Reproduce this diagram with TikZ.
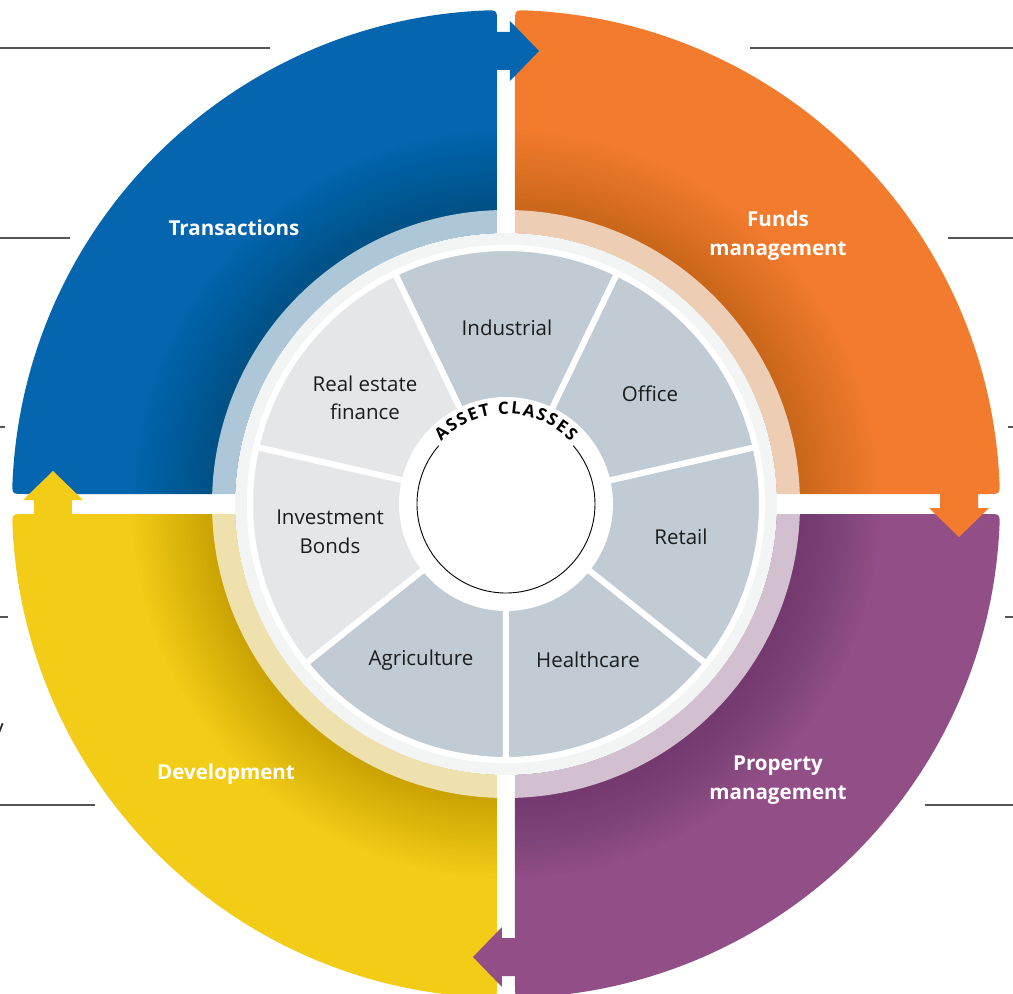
\documentclass[tikz,border=0pt]{standalone}
\usepackage{fontspec}
\setmainfont{Open Sans}
\usetikzlibrary{decorations.text}

\definecolor{qblue}{HTML}{0565AE}
\definecolor{qorange}{HTML}{F27B2E}
\definecolor{qpurple}{HTML}{924E87}
\definecolor{qyellow}{HTML}{F3CC17}
\definecolor{seggray}{HTML}{C1CBD3}
\definecolor{seglight}{HTML}{E5E6E8}
\definecolor{ringgray}{HTML}{F3F4F4}
\definecolor{edgeline}{HTML}{555555}
\definecolor{labeltext}{HTML}{1C1C1C}

\tikzset{
  pathblue/.style={insert path={(-9,10) -- (-9,481.9) .. controls (-9,493.9) .. (92.43:494) arc[start angle=92.43, end angle=177.45, radius=494] .. controls (-493.9,10) .. (-481.9,10) -- cycle}},
  pathorange/.style={insert path={(9,10) -- (481.9,10) .. controls (493.9,10) .. (2.55:494) arc[start angle=2.55, end angle=87.57, radius=494] .. controls (9,493.9) .. (9,481.9) -- cycle}},
  pathpurple/.style={insert path={(9,-10) -- (9,-481.9) .. controls (9,-493.9) .. (-87.57:494) arc[start angle=-87.57, end angle=-2.55, radius=494] .. controls (493.9,-10) .. (481.9,-10) -- cycle}},
  pathyellow/.style={insert path={(-9,-10) -- (-481.9,-10) .. controls (-493.9,-10) .. (182.55:494) arc[start angle=182.55, end angle=267.43, radius=494] .. controls (-9,-493.9) .. (-9,-481.9) -- cycle}},
  flowarrow/.pic={\fill (-14,434) -- (4,434) -- (4,423) -- (33,453) -- (4,483) -- (4,472) -- (-14,472) -- cycle;},
  edgeln/.style={draw=edgeline, line width=1.3},
  qlabel/.style={text=white, font=\fontsize{20.6}{29}\selectfont\bfseries, align=center, inner sep=0},
  seglabel/.style={text=labeltext, font=\fontsize{20.5}{28.5}\selectfont, align=center, inner sep=0},
}

\newcommand\segsector[3]{%
  \filldraw[fill=#3, draw=white, line width=6, line join=miter]
    (#1:256) arc[start angle=#1, end angle=#2, radius=256] -- (#2:104)
    arc[start angle=#2, end angle=#1, radius=104] -- cycle;}

\begin{document}
\begin{tikzpicture}[x=1pt, y=1pt]
  \useasboundingbox (-506,-490) rectangle (507,504);
  \fill[white] (-506,-490) rectangle (507,504);

  % edge lines of the surrounding page
  \draw[edgeln] (-506,456) -- (-236,456);
  \draw[edgeln] (244,456) -- (507,456);
  \draw[edgeln] (-506,266) -- (-436,266);
  \draw[edgeln] (442,266) -- (507,266);
  \draw[edgeln] (-506,77) -- (-501,77);
  \draw[edgeln] (-506,-113) -- (-498,-113);
  \draw[edgeln] (502,77) -- (507,77);
  \draw[edgeln] (499,-113) -- (507,-113);
  \draw[edgeln] (-506,-301) -- (-411,-301);
  \draw[edgeln] (419,-301) -- (507,-301);
  \node[anchor=base east, inner sep=0, font=\fontsize{22}{22}\selectfont, text=labeltext] (yfrag) at (-502,-231) {y};

  % quadrants
  \fill[qblue] [pathblue];
  \fill[qorange] [pathorange];
  \fill[qpurple] [pathpurple];
  \fill[qyellow] [pathyellow];

  % arrows
  \pic[qblue] {flowarrow};
  \pic[qorange, rotate=-90] {flowarrow};
  \pic[qpurple, rotate=-180] {flowarrow};
  \pic[qyellow, rotate=90] {flowarrow};

  % shadow around the ring
  \begin{scope}
    \clip [pathblue] [pathorange] [pathpurple] [pathyellow];
    \foreach \k in {1,...,20} {
      \fill[black, opacity=0.0095] (0,0) circle ({294+4*\k});
    }
  \end{scope}

  % translucent band and rings
  \fill[white, opacity=0.68, even odd rule] (0,0) circle (294) (0,0) circle (271);
  \fill[ringgray] (0,0) circle (271);
  \fill[white] (0,0) circle (259);

  % asset class segments
  \segsector{270}{321.43}{seggray}
  \segsector{321.43}{372.86}{seggray}
  \segsector{372.86}{424.29}{seggray}
  \segsector{424.29}{475.71}{seggray}
  \segsector{475.71}{527.14}{seglight}
  \segsector{527.14}{578.57}{seglight}
  \segsector{578.57}{630}{seggray}

  \node[seglabel] (industrial) at (1,176) {Industrial};
  \node[seglabel] (office) at (144,110) {Office};
  \node[seglabel] (retail) at (175,-33) {Retail};
  \node[seglabel] (healthcare) at (82,-156) {Healthcare};
  \node[seglabel] (agriculture) at (-85,-156) {Agriculture};
  \node[seglabel] (bonds) at (-176,-28) {Investment\\Bonds};
  \node[seglabel] (finance) at (-141,106) {Real estate\\finance};

  % centre circle with curved title
  \draw[black, line width=0.9] (139:89) arc[start angle=139, end angle=401, radius=89];
  \path[decorate, decoration={text along path, text align={fit to path},
      text={|\fontsize{17}{17}\selectfont\bfseries|ASSET CLASSES}}]
    (136:90) arc[start angle=136, end angle=44, radius=90];

  % quadrant labels
  \node[qlabel] (transactions) at (-272,276) {Transactions};
  \node[qlabel] (funds) at (272,268) {Funds\\management};
  \node[qlabel] (development) at (-280,-270) {Development};
  \node[qlabel] (property) at (272,-276) {Property\\management};
\end{tikzpicture}
\end{document}
